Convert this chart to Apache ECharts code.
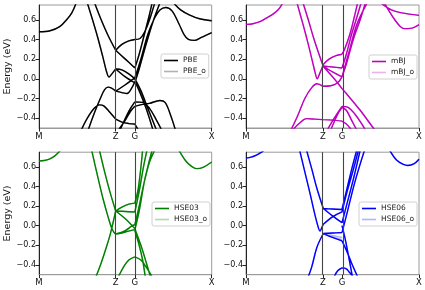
<!DOCTYPE html>
<html><head><meta charset="utf-8">
<script src="https://cdn.jsdelivr.net/npm/echarts@6/dist/echarts.min.js"></script>
<style>html,body{margin:0;padding:0;background:#fff}#c{width:425px;height:290px}</style>
</head><body><div id="c"></div>
<script>
// k-path ticks
const kTicks = [0, 0.444, 0.555, 1];
const kLabels = ['M', 'Z', 'G', 'X'];
const eTicks = [-0.4, -0.2, 0, 0.2, 0.4, 0.6];
const eMin = -0.5, eMax = 0.75;

// PBE bands [k, E]
const pbeBands = [
  [[0,.478],[.064,.488],[.12,.53],[.16,.6],[.19,.67],[.215,.77]],
  [[.28,.77],[.31,.6],[.34,.42],[.37,.22],[.39,.08],[.405,.018],[.42,.045],[.444,.10]],
  [[.322,.77],[.36,.6],[.40,.44],[.444,.29]],
  [[.444,.29],[.48,.35],[.52,.385],[.555,.40],[.585,.41],[.61,.47],[.64,.6],[.67,.77]],
  [[.444,.29],[.50,.2],[.555,.11],[.58,.25],[.61,.45],[.635,.62],[.655,.77]],
  [[.444,.10],[.48,.09],[.52,.05],[.555,.0],[.59,-.12],[.63,-.3],[.68,-.52]],
  [[.444,.10],[.50,.02],[.555,-.04],[.58,.1],[.62,.35],[.66,.58],[.70,.77]],
  [[.444,-.125],[.50,-.06],[.555,.01],[.59,.2],[.63,.45],[.67,.62],[.70,.70],[.735,.725],[.77,.69],[.81,.56],[.84,.45],[.865,.40],[.9,.39],[.94,.42],[1,.47]],
  [[.78,.77],[.82,.70],[.87,.65],[.93,.61],[1,.59]],
  [[.285,-.52],[.32,-.35],[.355,-.2],[.38,-.11],[.40,-.085],[.42,-.095],[.444,-.125],[.48,-.14],[.51,-.15],[.535,-.1],[.555,-.03],[.58,-.12],[.62,-.3],[.66,-.52]],
  [[.245,-.52],[.28,-.4],[.32,-.3],[.35,-.265],[.375,-.275],[.41,-.34],[.444,-.41],[.48,-.44],[.52,-.455],[.555,-.46],[.575,-.52]],
  [[.46,-.52],[.50,-.42],[.53,-.33],[.555,-.28],[.60,-.26],[.64,-.25],[.70,-.22],[.73,-.24],[.76,-.36],[.79,-.52]],
  [[.47,-.52],[.52,-.33],[.555,-.235],[.60,-.24],[.64,-.3],[.68,-.42],[.71,-.52]]
];
const pbeOBands = pbeBands;

// mBJ bands
const mbjBands = [
  [[0,.553],[.04,.56],[.081,.58],[.12,.62],[.158,.66],[.19,.71],[.212,.77]],
  [[.80,.77],[.83,.68],[.86,.60],[.89,.535],[.915,.51],[.95,.512],[.98,.53],[1,.55]],
  [[.78,.77],[.84,.70],[.9,.67],[1,.645]],
  [[.295,.77],[.33,.55],[.36,.35],[.385,.17],[.40,.06],[.412,.0],[.425,.05],[.444,.13]],
  [[.33,.77],[.36,.6],[.39,.42],[.42,.26],[.444,.14]],
  [[.444,.14],[.48,.2],[.52,.235],[.555,.25],[.57,.3],[.60,.45],[.625,.62],[.645,.77]],
  [[.444,.13],[.50,.12],[.555,.11],[.58,.25],[.61,.45],[.64,.62],[.665,.77]],
  [[.444,.13],[.50,.07],[.555,.02],[.58,.15],[.62,.4],[.66,.6],[.69,.77]],
  [[.444,.13],[.51,.0],[.555,-.1],[.58,-.15],[.66,-.32],[.736,-.5],[.75,-.53]],
  [[.26,-.52],[.30,-.37],[.34,-.2],[.38,-.09],[.41,-.05],[.444,-.075],[.49,-.07],[.53,-.04],[.555,.02],[.60,.3],[.64,.55],[.70,.77]],
  [[.27,-.52],[.31,-.45],[.35,-.405],[.40,-.41],[.444,-.415],[.50,-.42],[.555,-.43],[.58,-.46],[.61,-.52]],
  [[.47,-.52],[.51,-.4],[.555,-.28],[.59,-.29],[.63,-.36],[.67,-.46],[.69,-.52]],
  [[.49,-.52],[.53,-.36],[.555,-.29],[.58,-.32],[.61,-.42],[.64,-.52]]
];
const mbjOBands = mbjBands;

// HSE03 bands
const hse03Bands = [
  [[0,.66],[.03,.665],[.06,.68],[.09,.71],[.125,.77]],
  [[.81,.77],[.85,.66],[.88,.61],[.913,.582],[.95,.595],[1,.65]],
  [[.305,.77],[.34,.5],[.37,.28],[.40,.09],[.42,-.02],[.435,-.07],[.444,-.085]],
  [[.35,.77],[.38,.55],[.41,.35],[.444,.15]],
  [[.33,-.52],[.36,-.38],[.39,-.22],[.415,-.07],[.444,.15]],
  [[.444,.15],[.48,.19],[.52,.22],[.555,.23],[.575,.38],[.60,.77]],
  [[.444,.15],[.50,.145],[.555,.14],[.58,.35],[.605,.6],[.625,.77]],
  [[.444,.15],[.50,.07],[.555,-.03],[.59,-.2],[.62,-.37],[.645,-.52]],
  [[.444,-.085],[.48,-.075],[.52,-.055],[.555,-.04],[.58,.15],[.61,.45],[.64,.67],[.655,.77]],
  [[.444,-.085],[.50,-.05],[.54,-.0],[.555,.01],[.58,.2],[.61,.45],[.64,.65],[.67,.77]],
  [[.555,-.05],[.58,-.2],[.60,-.35],[.615,-.52]],
  [[.46,-.52],[.49,-.42],[.52,-.35],[.555,-.318],[.59,-.35],[.62,-.42],[.655,-.52]]
];
const hse03OBands = hse03Bands;

// HSE06 bands
const hse06Bands = [
  [[0,.69],[.03,.70],[.06,.72],[.09,.75],[.105,.77]],
  [[.83,.77],[.87,.67],[.91,.625],[.935,.614],[.97,.63],[1,.678]],
  [[.31,.77],[.34,.55],[.37,.33],[.40,.1],[.42,-.03],[.428,-.055],[.44,-.01],[.447,.015]],
  [[.35,.77],[.38,.58],[.41,.38],[.447,.175]],
  [[.36,-.52],[.38,-.42],[.41,-.22],[.447,-.08]],
  [[.447,.175],[.50,.17],[.555,.165],[.58,.35],[.61,.57],[.64,.77]],
  [[.447,.175],[.50,.1],[.555,.03],[.58,.2],[.62,.47],[.66,.77]],
  [[.447,.015],[.50,.09],[.555,.14],[.58,.32],[.62,.57],[.65,.77]],
  [[.447,-.08],[.50,-.075],[.555,-.07],[.58,.1],[.63,.45],[.685,.77]],
  [[.447,-.08],[.50,-.12],[.555,-.155],[.58,-.25],[.61,-.38],[.645,-.52]],
  [[.555,.0],[.575,-.15],[.595,-.33],[.615,-.52]],
  [[.51,-.52],[.53,-.46],[.555,-.43],[.58,-.44],[.60,-.48],[.62,-.52]]
];
const hse06OBands = hse06Bands.concat([
  [[.447,-.085],[.50,-.10],[.555,-.12]],
  [[.47,-.09],[.52,-.125],[.555,-.14]]
]);

const panels = [
  {name:'PBE',   color:'#000000', ocolor:'rgba(0,0,0,0.3)',     bands:pbeBands,   obands:pbeOBands,   left:39,  top:5,     w:172.7, h:123,   lg:[161,54], ylab:true},
  {name:'mBJ',   color:'#bf00bf', ocolor:'rgba(191,0,191,0.3)', bands:mbjBands,   obands:mbjOBands,   left:246, top:5,     w:173,   h:123,   lg:[369,55], ylab:false},
  {name:'HSE03', color:'#008000', ocolor:'rgba(0,128,0,0.3)',   bands:hse03Bands, obands:hse03OBands, left:39,  top:152.2, w:172.7, h:122.5, lg:[152,202], ylab:true},
  {name:'HSE06', color:'#0000ff', ocolor:'rgba(0,0,255,0.3)',   bands:hse06Bands, obands:hse06OBands, left:246, top:152.2, w:173,   h:122.5, lg:[359,202], ylab:false}
];

// split a band into pieces at the Z and G corners (kinks of the k-path)
function splitAtCorners(band) {
  const corners = [kTicks[1], kTicks[2], 0.447];
  const out = []; let cur = [];
  band.forEach((pt, idx) => {
    cur.push(pt);
    const isCorner = corners.some(c => Math.abs(pt[0] - c) < 1e-6);
    if (isCorner && idx > 0 && idx < band.length - 1) { out.push(cur); cur = [pt]; }
  });
  if (cur.length > 1) out.push(cur);
  return out;
}
// join all pieces of all bands into one data list, broken by empty items
function joinBands(bands) {
  const data = [];
  bands.forEach(b => splitAtCorners(b).forEach(seg => {
    if (data.length) data.push(['-', '-']);
    seg.forEach(q => data.push([q[0], q[1]]));
  }));
  return data;
}

const FONT = 'DejaVu Sans';
const grids = [], xAxes = [], yAxes = [], series = [], legends = [];
panels.forEach((p, i) => {
  grids.push({left:p.left, top:p.top, width:p.w, height:p.h, show:true, borderColor:'#9a9a9a', borderWidth:1, backgroundColor:'transparent'});
  xAxes.push({type:'value', gridIndex:i, min:0, max:1,
    axisLine:{show:true, onZero:false, lineStyle:{color:'#9a9a9a', width:1}},
    axisTick:{show:true, length:3.5, customValues:kTicks, lineStyle:{color:'#222'}},
    axisLabel:{customValues:kTicks, margin:4, fontFamily:FONT, fontSize:8.5, color:'#111',
      formatter: v => { const j = kTicks.findIndex(t => Math.abs(t - v) < 1e-6); return j >= 0 ? kLabels[j] : ''; }},
    splitLine:{show:false}});
  yAxes.push({type:'value', gridIndex:i, min:eMin, max:eMax,
    name: p.ylab ? 'Energy (eV)' : '', nameLocation:'middle', nameGap:19, nameRotate:90,
    nameTextStyle:{fontFamily:FONT, fontSize:9.5, color:'#111'},
    axisLine:{show:true, onZero:false, lineStyle:{color:'#222', width:1}},
    axisTick:{show:true, length:3.5, customValues:eTicks, lineStyle:{color:'#222'}},
    axisLabel:{customValues:eTicks, margin:3, fontFamily:FONT, fontSize:8, color:'#111',
      formatter: v => (v < -1e-9 ? '\u2212' : '') + Math.abs(v).toFixed(1)},
    splitLine:{show:false}});
  series.push({type:'line', name:p.name + '_o', xAxisIndex:i, yAxisIndex:i, data:joinBands(p.obands),
    connectNulls:false, showSymbol:false, symbol:'none', smooth:0.35, z:2, silent:true,
    lineStyle:{color:p.ocolor, width:1.4}, itemStyle:{color:p.ocolor}});
  series.push({type:'line', name:p.name, xAxisIndex:i, yAxisIndex:i, data:joinBands(p.bands),
    connectNulls:false, showSymbol:false, symbol:'none', smooth:0.35, z:3, silent:true,
    lineStyle:{color:p.color, width:1.4}, itemStyle:{color:p.color},
    markLine:{silent:true, symbol:'none', label:{show:false}, animation:false,
      lineStyle:{color:'#444', width:1.1, type:'solid'},
      data:[{xAxis:kTicks[1]}, {xAxis:kTicks[2]}]}});
  legends.push({left:p.lg[0], top:p.lg[1], orient:'vertical', data:[p.name, p.name + '_o'],
    icon:'rect', itemWidth:14, itemHeight:1.6, itemGap:2, padding:[2,3,2,3],
    borderColor:'#d0d0d0', borderWidth:1, borderRadius:2, backgroundColor:'rgba(255,255,255,0.85)',
    textStyle:{fontFamily:FONT, fontSize:7.5, color:'#222', lineHeight:9}, selectedMode:false});
});

const chart = echarts.init(document.getElementById('c'), null, {renderer:'canvas'});
chart.setOption({animation:false, grid:grids, xAxis:xAxes, yAxis:yAxes, series:series, legend:legends});
</script>
</body></html>
